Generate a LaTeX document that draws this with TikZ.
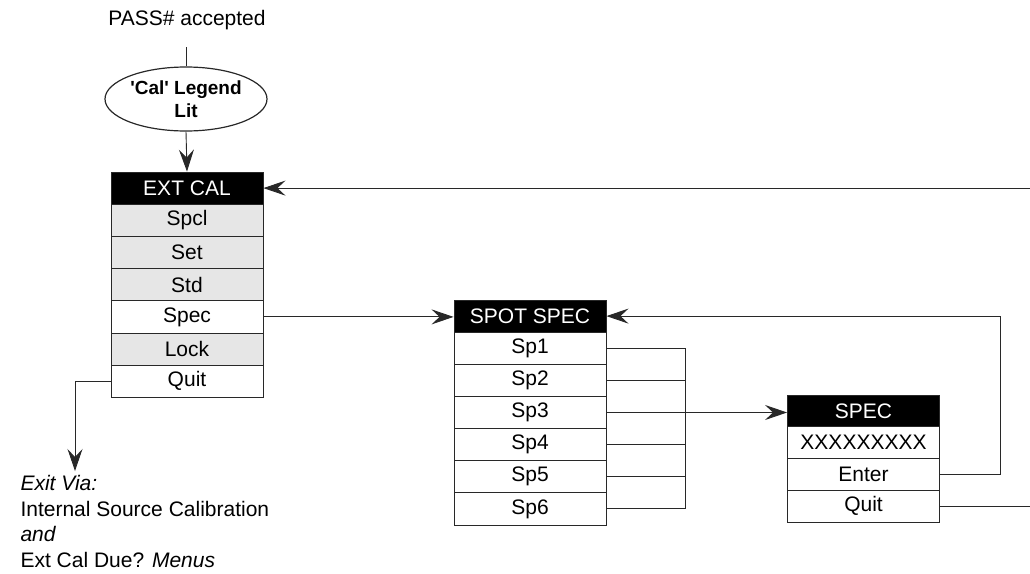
\documentclass[tikz,border=0pt]{standalone}
\usepackage{fontspec}
\setmainfont{Liberation Sans}
\usetikzlibrary{arrows.meta,shapes.geometric}
\definecolor{rowgray}{RGB}{230,230,230}
\definecolor{linecol}{RGB}{40,40,40}
\tikzset{
  txt/.style={font=\fontsize{21}{24}\selectfont},
  row/.style={draw=linecol, line width=0.9pt, minimum width=152pt, minimum height=32.2pt, inner sep=0pt, anchor=center, txt},
  grayrow/.style={row, fill=rowgray},
  whiterow/.style={row, fill=white},
  headrow/.style={row, fill=black, text=white},
  conn/.style={draw=linecol, line width=0.9pt},
  arr/.style={conn, -{Stealth[length=22pt, width=15pt, inset=8pt]}},
}
\begin{document}
\begin{tikzpicture}[x=1pt, y=-1pt]
\useasboundingbox (0,0) rectangle (1030,573);
% start
\node[txt, anchor=base] (pass) at (187,25) {PASS\# accepted};
\coordinate (passend) at (186,47);
\node[ellipse, draw=linecol, line width=1.2pt, minimum width=162pt, minimum height=64pt, inner sep=0pt, align=center, font=\fontsize{19}{23}\selectfont\bfseries] (legend) at (186,99) {\textquotesingle Cal\textquotesingle{} Legend\\Lit};
% EXT CAL menu
\node[headrow] (extcal) at (187,188.1) {EXT CAL};
\node[grayrow] (spcl) at (187,220.3) {Spcl};
\node[grayrow] (set) at (187,252.5) {Set};
\node[grayrow] (std) at (187,284.7) {Std};
\node[whiterow] (spec) at (187,316.9) {Spec};
\node[grayrow] (lock) at (187,349.1) {Lock};
\node[whiterow] (quit) at (187,381.3) {Quit};
% SPOT SPEC menu
\node[headrow] (spotspec) at (530,316.1) {SPOT SPEC};
\node[whiterow] (sp1) at (530,348.2) {Sp1};
\node[whiterow] (sp2) at (530,380.4) {Sp2};
\node[whiterow] (sp3) at (530,412.5) {Sp3};
\node[whiterow] (sp4) at (530,444.6) {Sp4};
\node[whiterow] (sp5) at (530,476.8) {Sp5};
\node[whiterow] (sp6) at (530,508.9) {Sp6};
% SPEC menu
\node[headrow, minimum height=31.75pt] (specm) at (863.5,410.9) {SPEC};
\node[whiterow, minimum height=31.75pt] (xx) at (863.5,442.6) {XXXXXXXXX};
\node[whiterow, minimum height=31.75pt] (enter) at (863.5,474.4) {Enter};
\node[whiterow, minimum height=31.75pt] (quit2) at (863.5,506.1) {Quit};
% exit text
\node[txt, anchor=base west] (exit1) at (17,490) {\itshape Exit Via:};
\node[txt, anchor=base west] (exit2) at (17,516) {Internal Source Calibration};
\node[txt, anchor=base west] (exit3) at (17,541.5) {\itshape and};
\node[txt, anchor=base west] (exit4) at (17,567) {Ext Cal Due? \itshape Menus};
% coordinates
\coordinate (topin) at (1030,188.1);
\coordinate (quitout) at (1030,506.1);
\coordinate (loopx) at (1000,474.4);
\coordinate (bus) at (685,348.2);
\coordinate (exitbend) at (75,381.3);
\coordinate (exittip) at (75,471);
% connectors
\draw[conn] (passend) -- (legend.north);
\draw[arr] (legend.south) -- (extcal.north);
\draw[arr] (topin) -- (extcal.east);
\draw[arr] (spec.east) -- (spec.east -| spotspec.west);
\draw[arr] (enter.east) -- (loopx) |- (spotspec.east);
\draw[conn] (quit2.east) -- (quitout);
\draw[conn] (quit.west) -- (exitbend);
\draw[arr] (exitbend) -- (exittip);
\draw[conn] (sp1.east) -- (bus) -- (bus |- sp6.east) -- (sp6.east);
\draw[conn] (sp2.east) -- (sp2.east -| bus);
\draw[conn] (sp4.east) -- (sp4.east -| bus);
\draw[conn] (sp5.east) -- (sp5.east -| bus);
\draw[arr] (sp3.east) -- (sp3.east -| specm.west);
\end{tikzpicture}
\end{document}
